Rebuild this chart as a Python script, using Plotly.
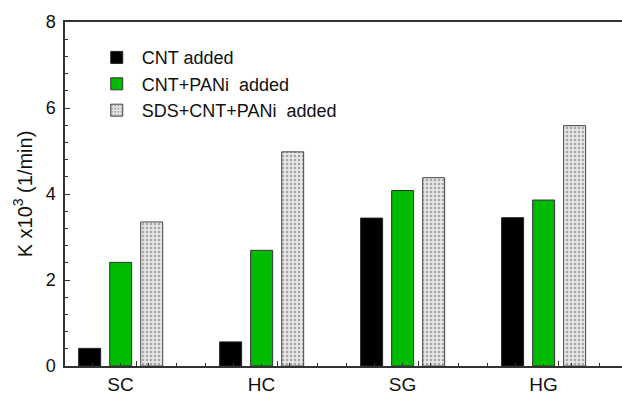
import plotly.graph_objects as go

categories = ["SC", "HC", "SG", "HG"]
cnt_added = [0.41, 0.56, 3.44, 3.45]
cnt_pani_added = [2.41, 2.69, 4.08, 3.86]
sds_cnt_pani_added = [3.35, 4.98, 4.38, 5.59]
series_names = ["CNT added", "CNT+PANi  added", "SDS+CNT+PANi  added"]

xpos = list(range(len(categories)))
FONT = "Liberation Sans, Arial, sans-serif"
W = 0.156

fig = go.Figure()
fig.add_trace(go.Bar(x=xpos, y=cnt_added, name=series_names[0], width=W, offset=-0.297,
                     marker=dict(color="#000000", line=dict(color="#222222", width=1))))
fig.add_trace(go.Bar(x=xpos, y=cnt_pani_added, name=series_names[1], width=W, offset=-0.077,
                     marker=dict(color="#00bb00", line=dict(color="#333333", width=1))))
fig.add_trace(go.Bar(x=xpos, y=sds_cnt_pani_added, name=series_names[2], width=W, offset=0.143,
                     marker=dict(color="#e6e6e6", line=dict(color="#444444", width=1),
                                 pattern=dict(shape=".", fgcolor="#666666", bgcolor="#e6e6e6",
                                              size=4, solidity=0.3))))

# invisible trace that carries the decorative tick axis
fig.add_trace(go.Scatter(x=[xpos[0]], y=[0], xaxis="x2", mode="markers",
                         marker=dict(opacity=0), showlegend=False, hoverinfo="skip"))

xr = [-0.394, 3.557]
fig.update_layout(
    width=622, height=394,
    margin=dict(l=65, r=0, t=22, b=28, autoexpand=False),
    paper_bgcolor="white", plot_bgcolor="white",
    barmode="overlay",
    font=dict(family=FONT, size=18, color="#111111"),
    showlegend=True,
    legend=dict(x=0.048, y=0.95, xanchor="left", yanchor="top",
                bgcolor="rgba(0,0,0,0)", font=dict(size=18, family=FONT),
                itemwidth=40, tracegroupgap=0),
    xaxis=dict(range=xr, tickmode="array", tickvals=xpos, ticktext=categories,
               ticks="", showline=True, linecolor="#333333", linewidth=1.5, mirror=True,
               showgrid=False, zeroline=False, tickfont=dict(size=19), automargin=False,
               ticklabelstandoff=0),
    xaxis2=dict(range=xr, overlaying="x", anchor="y", side="bottom",
                tick0=0.11, dtick=1, ticks="inside", ticklen=5, tickcolor="#333333",
                showticklabels=False, showline=False, showgrid=False, zeroline=False,
                automargin=False,
                minor=dict(dtick=0.2, ticks="inside", ticklen=3, tickcolor="#333333", showgrid=False)),
    yaxis=dict(range=[0, 8], dtick=2, ticks="inside", ticklen=5, tickcolor="#333333",
               showline=True, linecolor="#333333", linewidth=1.5, showgrid=False, zeroline=False,
               ticklabelstandoff=4, automargin=False,
               minor=dict(dtick=0.4, ticks="inside", ticklen=3, tickcolor="#333333", showgrid=False),
               title=dict(text="K x10<sup>3</sup> (1/min)", font=dict(size=20), standoff=8),
               tickfont=dict(size=18)),
)

fig.write_html("out.html")
